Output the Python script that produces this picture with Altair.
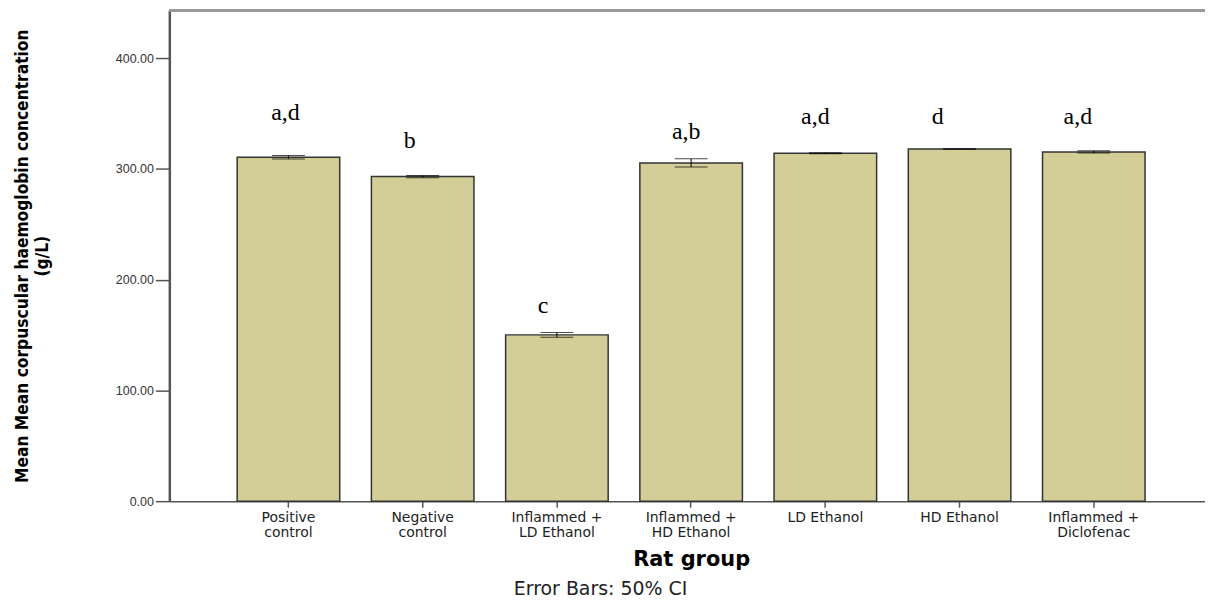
import altair as alt
import pandas as pd

groups = ["Positive\ncontrol", "Negative\ncontrol", "Inflammed +\nLD Ethanol",
          "Inflammed +\nHD Ethanol", "LD Ethanol", "HD Ethanol", "Inflammed +\nDiclofenac"]
means = [310.6, 293.2, 150.2, 305.5, 314.2, 318.1, 315.4]
ci_half = [1.5, 1.0, 2.2, 3.7, 0.5, 0.3, 1.0]
letters = ["a,d", "b", "c", "a,b", "a,d", "d", "a,d"]
letter_y = [344, 319, 170, 327, 341, 341, 341]
letter_dx = [-3, -13, -14, -5, -10, -22, -16]
y_ticks = [0, 100, 200, 300, 400]

W, H = 1040, 493
P_INNER, P_OUTER, ALIGN = 0.236, 0.476, 0.531
step = W / (len(groups) - P_INNER + 2 * P_OUTER)
band = step * (1 - P_INNER)

df = pd.DataFrame({
    "group": groups,
    "mean": means,
    "lo": [m - e for m, e in zip(means, ci_half)],
    "hi": [m + e for m, e in zip(means, ci_half)],
    "letter": letters,
    "ly": letter_y,
    "lx": [d + band / 2 for d in letter_dx],
})

xscale = alt.Scale(domain=groups, paddingInner=P_INNER, paddingOuter=P_OUTER, align=ALIGN)
yscale = alt.Scale(domain=[0, 443.4], nice=False, zero=True)

x_enc = alt.X("group:N", scale=xscale, sort=groups,
              axis=alt.Axis(title="Rat group", labelAngle=0,
                            labelExpr="split(datum.label, '\\n')",
                            labelFont="DejaVu Sans", labelFontSize=14,
                            labelColor="#222", labelLineHeight=15,
                            labelPadding=3,
                            tickSize=6, tickColor="#555", tickWidth=1.5,
                            domainColor="#555", domainWidth=1.5,
                            titleFont="DejaVu Sans", titleFontSize=21,
                            titleFontWeight="bold", titleColor="#000",
                            titleX=524, titleY=65, titleBaseline="alphabetic",
                            titleAnchor="start", titleAlign="center"))

bars = alt.Chart(df).mark_bar(color="#D3CE98", stroke="#333", strokeWidth=1.5).encode(
    x=x_enc,
    y=alt.Y("mean:Q", scale=yscale,
            axis=alt.Axis(title=["Mean Mean corpuscular haemoglobin concentration", "(g/L)"],
                          values=y_ticks, format=".2f", grid=False,
                          labelFont="Liberation Sans", labelFontSize=12.5,
                          labelColor="#333", labelPadding=2,
                          tickSize=14, tickColor="#555", tickWidth=1.5,
                          domainColor="#555", domainWidth=2.5,
                          titleFont="'Liberation Sans Narrow', 'DejaVu Sans Condensed', Roboto",
                          titleFontSize=17.3,
                          titleFontWeight="bold", titleColor="#000",
                          titleAngle=270, titleAlign="center", titleBaseline="bottom",
                          titleLineHeight=20, titleX=-138, titleY=H / 2)),
)

rule = alt.Chart(df).mark_rule(color="#000", strokeWidth=1).encode(
    x=alt.X("group:N", scale=xscale, sort=groups),
    y="lo:Q", y2="hi:Q")
cap_lo = alt.Chart(df).mark_tick(color="#000", thickness=1, size=33).encode(
    x=alt.X("group:N", scale=xscale, sort=groups), y=alt.Y("lo:Q"))
cap_hi = alt.Chart(df).mark_tick(color="#000", thickness=1, size=33).encode(
    x=alt.X("group:N", scale=xscale, sort=groups), y=alt.Y("hi:Q"))

text = alt.Chart(df).mark_text(font="Liberation Serif", fontSize=24, color="#000",
                               baseline="alphabetic", align="center").encode(
    x=alt.X("group:N", scale=xscale, sort=groups),
    xOffset=alt.XOffset("lx:Q", scale=None),
    y=alt.Y("ly:Q"),
    text="letter:N")

topline = alt.Chart(df).mark_rule(color="#999", strokeWidth=2.5).encode(
    x=alt.value(0), x2=alt.value(W), y=alt.value(0))

chart = alt.layer(bars, rule, cap_lo, cap_hi, text, topline).properties(
    width=W, height=H,
    autosize=alt.AutoSizeParams(type="none"),
    padding={"left": 162, "top": 1, "right": 0, "bottom": 101},
    title=alt.TitleParams(text="Error Bars: 50% CI", orient="bottom", anchor="middle",
                          font="DejaVu Sans", fontSize=19, fontWeight="normal",
                          color="#222", dx=-87, offset=10),
).configure_view(stroke=None)

chart.save("out.html", embed_options={"renderer": "svg", "actions": False})
